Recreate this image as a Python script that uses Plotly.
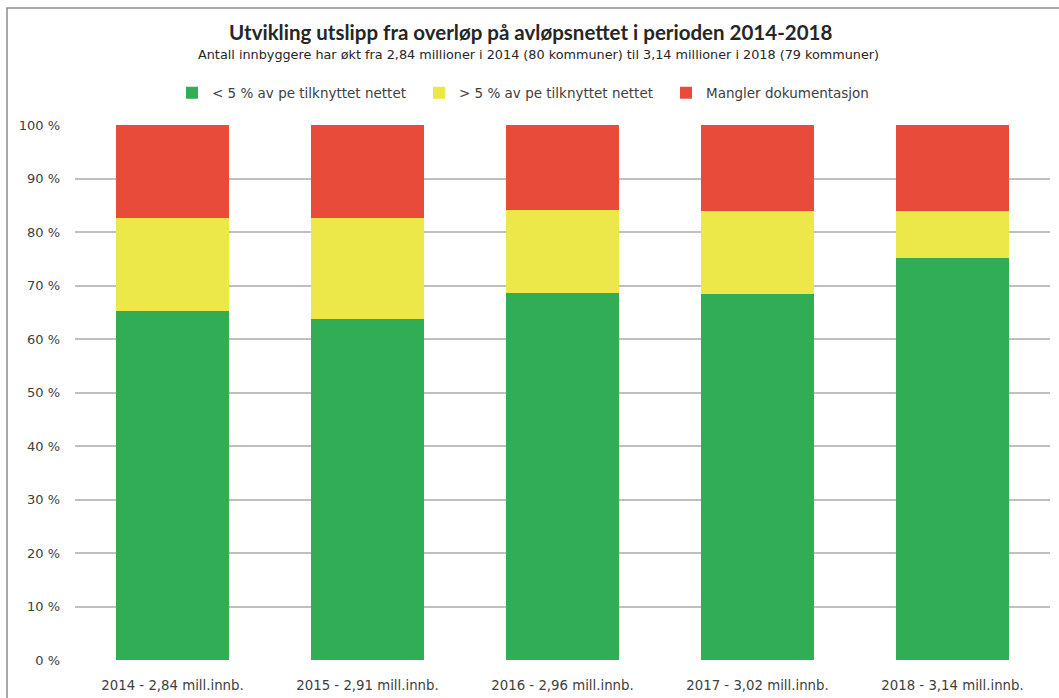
import plotly.graph_objects as go

categories = ["2014 - 2,84 mill.innb.", "2015 - 2,91 mill.innb.", "2016 - 2,96 mill.innb.",
              "2017 - 3,02 mill.innb.", "2018 - 3,14 mill.innb."]
under5 = [65.3, 63.7, 68.6, 68.4, 75.1]
over5 = [17.3, 18.9, 15.5, 15.5, 8.8]
missing = [17.4, 17.4, 15.9, 16.1, 16.1]
y_ticks = [0, 10, 20, 30, 40, 50, 60, 70, 80, 90, 100]
y_labels = [f"{v} %" for v in y_ticks]

series = [
    ("< 5 % av pe tilknyttet nettet", under5, "#31AD55"),
    ("> 5 % av pe tilknyttet nettet", over5, "#EDE84A"),
    ("Mangler dokumentasjon", missing, "#E94B3A"),
]

TFONT = "Lato, 'Open Sans', sans-serif"
FONT = "'DejaVu Sans', sans-serif"

L, T, W, H = 75, 125, 975, 535

fig = go.Figure()
for name, vals, col in series:
    fig.add_trace(go.Bar(x=categories, y=vals, name=name, marker_color=col,
                         marker_line_width=0))

fig.update_layout(
    barmode="stack",
    bargap=0.425,
    width=1059, height=698,
    margin=dict(l=L, r=1059 - L - W, t=T, b=698 - T - H),
    paper_bgcolor="white", plot_bgcolor="white",
    font=dict(family=FONT, size=13, color="#404040"),
    showlegend=True,
    legend=dict(orientation="h", x=(172 - L) / W, xanchor="left", y=(T + H - 93) / H,
                yanchor="middle", entrywidth=202, entrywidthmode="pixels",
                font=dict(size=13.5, color="#404040", family=FONT), traceorder="normal"),
    xaxis=dict(showgrid=False, showline=False, ticks="", ticklabelstandoff=16,
               automargin=False,
               tickfont=dict(size=13.3, color="#404040", family=FONT)),
    yaxis=dict(range=[0, 100], tickmode="array", tickvals=y_ticks, ticktext=y_labels,
               showgrid=True, gridcolor="#BFBFBF", gridwidth=1.8, zeroline=False,
               automargin=False,
               tickfont=dict(size=13, color="#404040", family=FONT), ticklabelstandoff=14),
    annotations=[
        dict(text="<b>Utvikling utslipp fra overløp på avløpsnettet i perioden 2014-2018</b>",
             xref="paper", yref="paper", x=(530 - L) / W, y=(T + H - 32) / H,
             xanchor="center", yanchor="middle", showarrow=False,
             font=dict(size=20.5, color="#262626", family=TFONT)),
        dict(text="Antall innbyggere har økt fra 2,84 millioner i 2014 (80 kommuner) til 3,14 millioner i 2018 (79 kommuner)",
             xref="paper", yref="paper", x=(538 - L) / W, y=(T + H - 55) / H,
             xanchor="center", yanchor="middle", showarrow=False,
             font=dict(size=12.8, color="#262626", family=FONT)),
    ],
    shapes=[
        dict(type="rect", xref="paper", yref="paper",
             x0=(7 - L) / W, x1=1.05, y0=-0.1, y1=(T + H - 8) / H,
             line=dict(color="#8C8C8C", width=1.5), fillcolor="rgba(0,0,0,0)", layer="below"),
    ],
)

fig.write_html("out.html", config={"displayModeBar": False},
               post_script="document.body.style.margin='0px';")
